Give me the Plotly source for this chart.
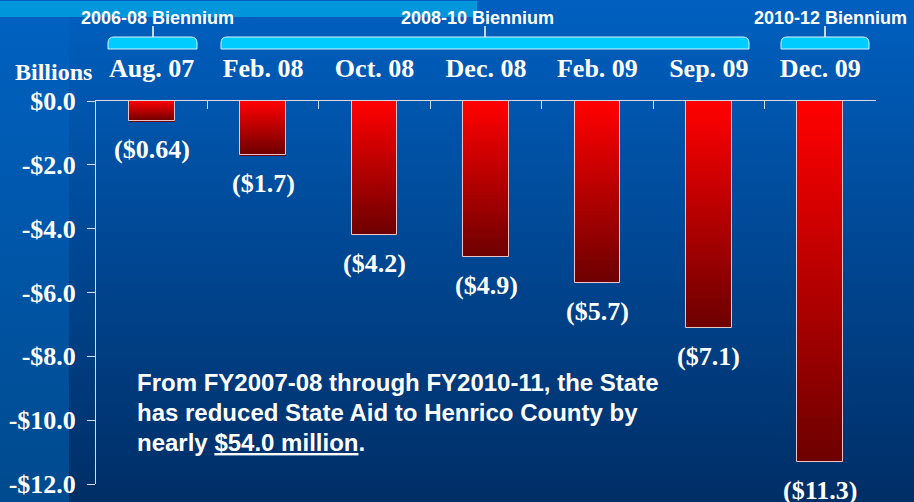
import base64
import plotly.graph_objects as go

# ---- data ----
categories = ["Aug. 07", "Feb. 08", "Oct. 08", "Dec. 08", "Feb. 09", "Sep. 09", "Dec. 09"]
reductions = [0.64, 1.7, 4.2, 4.9, 5.7, 7.1, 11.3]          # billions (shown as negatives)
bar_labels = ["($0.64)", "($1.7)", "($4.2)", "($4.9)", "($5.7)", "($7.1)", "($11.3)"]
y_tickvals = [0, -2, -4, -6, -8, -10, -12]
y_ticktext = ["$0.0", "-$2.0", "-$4.0", "-$6.0", "-$8.0", "-$10.0", "-$12.0"]
biennia = ["2006-08 Biennium", "2008-10 Biennium", "2010-12 Biennium"]
note_lines = ["From FY2007-08 through FY2010-11, the State",
              "has reduced State Aid to Henrico County by",
              "nearly <u>$54.0 million</u>."]

W, H = 914, 502
ML, MR, MT, MB = 96, 38, 101, 18
PW, PH = W - ML - MR, H - MT - MB


def PX(px):
    return (px - ML) / PW


def PY(py):
    return (H - MB - py) / PH


SERIF = "Liberation Serif"
SANS = "Liberation Sans"

fig = go.Figure()

# gradient bars built from stacked slices (overlay with explicit bases)
N = 48
top_rgb = (255, 0, 0)
bot_rgb = (110, 0, 0)
neg = [-v for v in reductions]
for k in range(N):
    t = k / (N - 1)
    col = "rgb(%d,%d,%d)" % tuple(round(a + (b - a) * t) for a, b in zip(top_rgb, bot_rgb))
    fig.add_trace(go.Bar(
        x=categories, y=[v / N for v in neg], base=[v * k / N for v in neg],
        width=0.41, marker=dict(color=col, line=dict(width=0)),
        hoverinfo="skip", showlegend=False))
# outline
fig.add_trace(go.Bar(
    x=categories, y=neg, width=0.41,
    marker=dict(color="rgba(0,0,0,0)", line=dict(color="#EBC3C8", width=1)),
    hoverinfo="skip", showlegend=False))

# background image
svg = f"""<svg xmlns='http://www.w3.org/2000/svg' width='{W}' height='{H}' viewBox='0 0 {W} {H}' preserveAspectRatio='none'>
<defs>
<linearGradient id='g' x1='0' y1='0' x2='0' y2='1'><stop offset='0' stop-color='#0060C0'/><stop offset='1' stop-color='#002E66'/></linearGradient>
<linearGradient id='h' x1='0' y1='0' x2='0' y2='1'><stop offset='0' stop-color='#0062C2'/><stop offset='1' stop-color='#004A8E'/></linearGradient>
</defs>
<rect width='{W}' height='{H}' fill='url(#g)'/>
<rect width='69' height='{H}' fill='url(#h)'/>
<rect y='1' width='477' height='16' fill='#0096DC'/>
</svg>"""
src = "data:image/svg+xml;base64," + base64.b64encode(svg.encode()).decode()
fig.add_layout_image(dict(source=src, xref="paper", yref="paper",
                          x=PX(0), y=PY(0), sizex=W / PW, sizey=H / PH,
                          sizing="stretch", layer="below", xanchor="left", yanchor="top"))

ann = []
# bar value labels
for c, v, lab in zip(categories, neg, bar_labels):
    ann.append(dict(x=c, y=v, xref="x", yref="y", text=lab, showarrow=False,
                    yanchor="top", yshift=-12,
                    font=dict(family=SERIF, size=26, color="white", weight="bold")))
# Billions
ann.append(dict(x=PX(53), y=PY(72), xref="paper", yref="paper", text="Billions",
                showarrow=False, xanchor="center", yanchor="middle",
                font=dict(family=SERIF, size=24, color="white", weight="bold")))

# brackets
brackets = [(108, 197, 153, 157), (221, 749, 485, 477), (781, 869, 825, 830)]
shapes = []
for (x0, x1, pin, lc), name in zip(brackets, biennia):
    r = 6
    ytop, ybot = 37, 49
    path = (f"M{PX(x0)},{PY(ybot)} L{PX(x0)},{PY(ytop + r)} "
            f"Q{PX(x0)},{PY(ytop)} {PX(x0 + r)},{PY(ytop)} "
            f"L{PX(x1 - r)},{PY(ytop)} Q{PX(x1)},{PY(ytop)} {PX(x1)},{PY(ytop + r)} "
            f"L{PX(x1)},{PY(ybot)} Z")
    shapes.append(dict(type="path", path=path, xref="paper", yref="paper",
                       fillcolor="#00CCFF", line=dict(color="#D8F4FF", width=1)))
    shapes.append(dict(type="line", xref="paper", yref="paper",
                       x0=PX(pin), x1=PX(pin), y0=PY(26), y1=PY(37),
                       line=dict(color="white", width=1.5)))
    ann.append(dict(x=PX(lc), y=PY(18), xref="paper", yref="paper", text=name,
                    showarrow=False, xanchor="center", yanchor="middle",
                    font=dict(family=SANS, size=18, color="white", weight="bold")))

# note
for i, line in enumerate(note_lines):
    ann.append(dict(x=PX(135), y=PY(382 + 30 * i), xref="paper", yref="paper", text=line,
                    showarrow=False, xanchor="left", yanchor="middle", align="left",
                    font=dict(family=SANS, size=24, color="white", weight="bold")))

axis_col = "#D4DCE8"
fig.update_layout(
    width=W, height=H,
    margin=dict(l=ML, r=MR, t=MT, b=MB),
    paper_bgcolor="#0050A8", plot_bgcolor="rgba(0,0,0,0)",
    barmode="overlay", bargap=0,
    showlegend=False,
    annotations=ann, shapes=shapes,
    xaxis=dict(type="category", categoryorder="array", categoryarray=categories,
               side="top", ticks="inside", tickson="boundaries", ticklen=8,
               tickcolor=axis_col, tickwidth=1, showline=True, linecolor=axis_col,
               linewidth=1, showgrid=False, zeroline=False, ticklabelstandoff=13,
               automargin=False,
               tickfont=dict(family=SERIF, size=26, color="white", weight="bold"),
               range=[-0.5, len(categories) - 0.5]),
    yaxis=dict(range=[-12, 0], tickvals=y_tickvals, ticktext=y_ticktext,
               ticks="outside", ticklen=8, tickcolor=axis_col, tickwidth=1,
               showline=True, linecolor=axis_col, linewidth=1, showgrid=False,
               zeroline=False, ticklabelstandoff=6, automargin=False,
               tickfont=dict(family=SERIF, size=26, color="white", weight="bold")),
)

fig.write_html("out.html", config={"displayModeBar": False},
               post_script="document.body.style.margin='0px';document.body.style.overflow='hidden';")
